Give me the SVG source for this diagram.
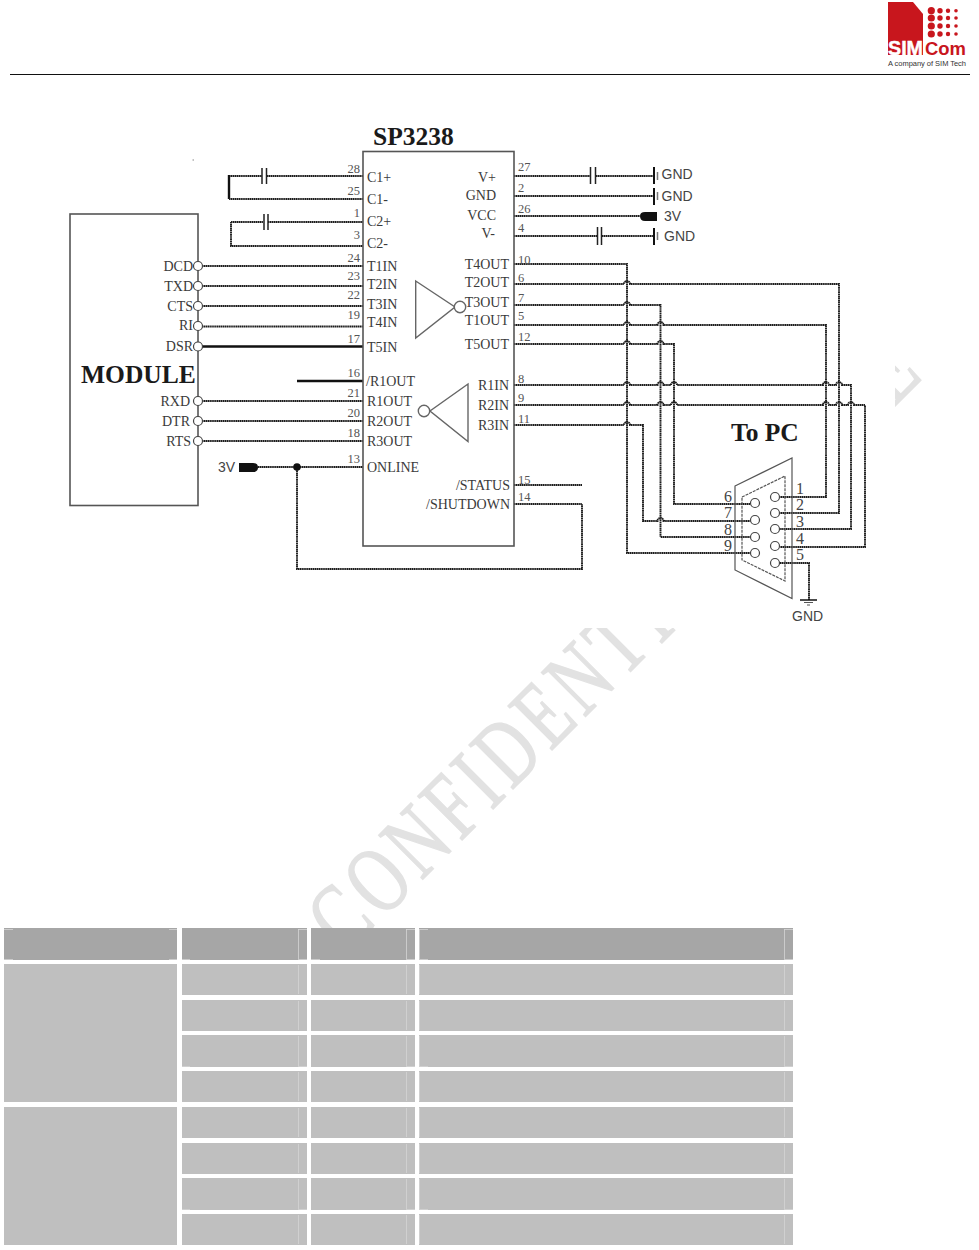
<svg xmlns="http://www.w3.org/2000/svg" width="979" height="1250" viewBox="0 0 979 1250">
<style>
text{font-family:"Liberation Serif","Times New Roman",serif;fill:#3a3a3a}
.l{font-size:14px}
.n{font-size:12.5px;fill:#555}
.e{text-anchor:end}
.b{font-weight:bold;font-size:25.500px;fill:#1a1a1a}
.s{font-family:"Liberation Sans",Arial,sans-serif;font-size:14px;fill:#444}
.d{font-size:16px;fill:#444}
.w{fill:none;stroke:#1c1c1c;stroke-width:1.900;stroke-dasharray:1.500 .4}
.t{fill:none;stroke:#111;stroke-width:2.400}
.box{fill:#fff;stroke:#555;stroke-width:1.600}
.gate{fill:#fff;stroke:#666;stroke-width:1.400}
.pin{fill:#fff;stroke:#444;stroke-width:1.200}
.wm{font-size:95px;fill:#e2e2e2;stroke:#e2e2e2;stroke-width:1.500}
.hd{fill:#a6a6a6}
.bd{fill:#bfbfbf}
.tk{fill:none;stroke:#d4d4d4;stroke-width:.8}
</style>
<defs>
<clipPath id="wmclip"><rect x="0" y="628" width="979" height="300"/><rect x="895" y="120" width="84" height="510"/></clipPath>
</defs>
<rect width="979" height="1250" fill="#fff"/>
<g id="watermark" clip-path="url(#wmclip)">
<text class="wm" transform="translate(346 956) rotate(-45) scale(.72 1)" letter-spacing="8">CONFIDENT</text>
<text class="wm" transform="translate(660 645) rotate(-45) scale(.74 1)" letter-spacing="9">IAL</text>
<text class="wm" transform="translate(800 501) rotate(-45) scale(.74 1)" letter-spacing="12">FILE</text>
</g>
<g id="header">
<line x1="10" y1="74.500" x2="970" y2="74.500" stroke="#111" stroke-width="1"/>
<g id="logo">
<path d="M888 2H913L923 14V55H888Z" fill="#c8161d"/>
<text x="888" y="55" style="font-family:'Liberation Sans',Arial,sans-serif;font-weight:bold;font-size:21px;fill:#fff;stroke:#fff;stroke-width:.5" textLength="35" lengthAdjust="spacingAndGlyphs">SIM</text>
<text x="925" y="55" style="font-family:'Liberation Sans',Arial,sans-serif;font-weight:bold;font-size:18px;fill:#c8161d" textLength="41" lengthAdjust="spacingAndGlyphs">Com</text>
<text x="888" y="66" style="font-family:'Liberation Sans',Arial,sans-serif;font-size:7.500px;fill:#333" textLength="78">A company of SIM Tech</text>
<g fill="#c8161d">
<circle cx="931.300" cy="10.700" r="3.600"/><circle cx="940" cy="10.700" r="2.700"/><circle cx="948" cy="10.700" r="2.200"/><circle cx="956" cy="10.700" r="1.800"/>
<circle cx="931.300" cy="18" r="3.600"/><circle cx="940" cy="18" r="2.700"/><circle cx="948" cy="18" r="2.200"/><circle cx="956" cy="18" r="1.800"/>
<circle cx="931.300" cy="26" r="3.600"/><circle cx="940" cy="26" r="2.700"/><circle cx="948" cy="26" r="2.200"/><circle cx="956" cy="26" r="1.800"/>
<circle cx="931.300" cy="34" r="3.600"/><circle cx="940" cy="34" r="2.700"/><circle cx="948" cy="34" r="2.200"/><circle cx="956" cy="34" r="1.800"/>
</g>
</g>
</g>
<g id="connectors">
<path class="w" d="M229 176H262M267 176H363"/>
<path class="t" d="M229 175V199"/>
<path class="w" d="M229 199H363"/>
<path class="w" d="M231 222H263M268 222H363M231 222V246H363"/>
<path class="w" d="M198 266H363M198 286H363M198 306H363M198 326.500H363"/>
<path class="t" d="M198 346.500H363M297 381H363"/>
<path class="w" d="M198 401H363M198 421H363M198 441H363"/>
<path class="w" d="M258 467H363M297 467V569H582V504H514M514 485H582"/>
<path class="w" d="M514 176H590M596 176H654M514 196H654M514 216H640M514 236H597M602 236H654"/>
<path class="w" d="M514 264H627V553H751"/>
<path class="w" d="M514 284H624a3 3 0 0 1 6 0H839V513H780"/>
<path class="w" d="M514 305H624a3 3 0 0 1 6 0H660.500V537H750.500"/>
<path class="w" d="M514 325H624a3 3 0 0 1 6 0H657.500a3 3 0 0 1 6 0H826V497H780"/>
<path class="w" d="M514 344H624a3 3 0 0 1 6 0H657.500a3 3 0 0 1 6 0H674V504H750.500"/>
<path class="w" d="M514 385H624a3 3 0 0 1 6 0H657.500a3 3 0 0 1 6 0H671a3 3 0 0 1 6 0H823a3 3 0 0 1 6 0H836a3 3 0 0 1 6 0H851V529H780"/>
<path class="w" d="M514 405H624a3 3 0 0 1 6 0H657.500a3 3 0 0 1 6 0H671a3 3 0 0 1 6 0H823a3 3 0 0 1 6 0H836a3 3 0 0 1 6 0H848a3 3 0 0 1 6 0H865V547H780"/>
<path class="w" d="M514 425H624a3 3 0 0 1 6 0H643V521H657.500a3 3 0 0 1 6 0H750.500"/>
<path class="w" d="M780 563H809V600"/>
<circle cx="297" cy="467" r="3.800" fill="#111"/>
</g>
<g id="caps" stroke="#222" stroke-width="1.500" fill="none">
<path d="M262 168V184M266.500 168V184M264 214V230M268 214V230M590.500 167V184M595.500 167V184M597.500 227V245M601.500 227V245"/>
</g>
<g id="module">
<rect class="box" x="70" y="214" width="128" height="291.500"/>
<text class="b" x="81" y="383">MODULE</text>
<g class="pin">
<circle cx="198" cy="266" r="4.500"/><circle cx="198" cy="286" r="4.500"/><circle cx="198" cy="306" r="4.500"/><circle cx="198" cy="326" r="4.500"/><circle cx="198" cy="346.500" r="4.500"/><circle cx="198" cy="401" r="4.500"/><circle cx="198" cy="421" r="4.500"/><circle cx="198" cy="441" r="4.500"/>
</g>
<text class="l e" x="193" y="271">DCD</text><text class="l e" x="193" y="291">TXD</text><text class="l e" x="193" y="311">CTS</text><text class="l e" x="193" y="330">RI</text><text class="l e" x="193" y="351">DSR</text>
<text class="l e" x="190" y="406">RXD</text><text class="l e" x="190" y="426">DTR</text><text class="l e" x="191" y="446">RTS</text>
</g>
<g id="sp3238">
<rect class="box" x="363" y="151.500" width="151" height="394.500"/>
<text class="b" x="373" y="145">SP3238</text>
<text class="l" x="367" y="181.500">C1+</text><text class="l" x="367" y="203.500">C1-</text><text class="l" x="367" y="225.500">C2+</text><text class="l" x="367" y="248">C2-</text>
<text class="l" x="367" y="270.500">T1IN</text><text class="l" x="367" y="288.500">T2IN</text><text class="l" x="367" y="308.500">T3IN</text><text class="l" x="367" y="326.500">T4IN</text><text class="l" x="367" y="351.500">T5IN</text>
<text class="l" x="366" y="385.500">/R1OUT</text><text class="l" x="367" y="405.500">R1OUT</text><text class="l" x="367" y="425.500">R2OUT</text><text class="l" x="367" y="445.500">R3OUT</text><text class="l" x="367" y="471.500">ONLINE</text>
<text class="l e" x="496" y="181.500">V+</text><text class="l e" x="496" y="199.500">GND</text><text class="l e" x="496" y="219.500">VCC</text><text class="l e" x="495" y="237.500">V-</text>
<text class="l e" x="509" y="268.500">T4OUT</text><text class="l e" x="509" y="286.500">T2OUT</text><text class="l e" x="509" y="306.500">T3OUT</text><text class="l e" x="509" y="324.500">T1OUT</text><text class="l e" x="509" y="348.500">T5OUT</text>
<text class="l e" x="509" y="389.500">R1IN</text><text class="l e" x="509" y="409.500">R2IN</text><text class="l e" x="509" y="429.500">R3IN</text>
<text class="l e" x="510" y="489.500">/STATUS</text><text class="l e" x="510" y="508.500">/SHUTDOWN</text>
<g>
<text class="n e" x="360" y="173">28</text><text class="n e" x="360" y="195">25</text><text class="n e" x="360" y="217">1</text><text class="n e" x="360" y="239">3</text><text class="n e" x="360" y="262">24</text><text class="n e" x="360" y="280">23</text><text class="n e" x="360" y="299">22</text><text class="n e" x="360" y="319">19</text><text class="n e" x="360" y="343">17</text><text class="n e" x="360" y="377">16</text><text class="n e" x="360" y="397">21</text><text class="n e" x="360" y="417">20</text><text class="n e" x="360" y="437">18</text><text class="n e" x="360" y="463">13</text>
<text class="n" x="518" y="171">27</text><text class="n" x="518" y="192">2</text><text class="n" x="518" y="213">26</text><text class="n" x="518" y="232">4</text><text class="n" x="518" y="264">10</text><text class="n" x="518" y="282">6</text><text class="n" x="518" y="302">7</text><text class="n" x="518" y="320">5</text><text class="n" x="518" y="341">12</text><text class="n" x="518" y="383">8</text><text class="n" x="518" y="402">9</text><text class="n" x="518" y="423">11</text><text class="n" x="518" y="484">15</text><text class="n" x="518" y="501">14</text>
</g>
<path class="gate" d="M415.700 281L455 307L415.700 338Z"/>
<circle class="gate" cx="460" cy="307" r="5.700"/>
<path class="gate" d="M468 384L430 411L468 441.500Z"/>
<circle class="gate" cx="424" cy="411" r="5.700"/>
</g>
<g id="gnd-symbols">
<path d="M654 167V184M654 188V205M654 228V245" stroke="#111" stroke-width="2" fill="none"/>
<path d="M657.500 172V180M657.500 192V200M657.500 232V240" stroke="#777" stroke-width="1.500" fill="none"/>
<text class="s" x="661.500" y="179">GND</text><text class="s" x="661.500" y="201">GND</text><text class="s" x="664" y="241">GND</text>
</g>
<g id="supply-3v">
<path d="M640 216Q640 212 645 212H657V221H645Q640 221 640 216Z" fill="#111"/>
<text class="s" x="664" y="221">3V</text>
<path d="M258 467.500Q258 463 253 463H239V472H253Q258 472 258 467.500Z" fill="#111"/>
<text class="s" x="218" y="472">3V</text>
</g>
<g id="db9">
<path d="M735 486L792 458V598.500L735 570Z" fill="none" stroke="#555" stroke-width="1.200"/>
<path d="M742 497L785 476V581L742 560Z" fill="none" stroke="#555" stroke-width="1.200" stroke-dasharray="3 1"/>
<g class="pin">
<circle cx="755" cy="503" r="4.500"/><circle cx="755" cy="520" r="4.500"/><circle cx="755" cy="537" r="4.500"/><circle cx="755" cy="553" r="4.500"/>
<circle cx="775" cy="497" r="4.500"/><circle cx="775" cy="513" r="4.500"/><circle cx="775" cy="529" r="4.500"/><circle cx="775" cy="546" r="4.500"/><circle cx="775" cy="563" r="4.500"/>
</g>
<text class="b" x="731" y="441">To PC</text>
<text class="d" x="724" y="502">6</text><text class="d" x="724" y="518">7</text><text class="d" x="724" y="535">8</text><text class="d" x="724" y="551">9</text>
<text class="d" x="796" y="494">1</text><text class="d" x="796" y="510">2</text><text class="d" x="796" y="527">3</text><text class="d" x="796" y="544">4</text><text class="d" x="796" y="560">5</text>
<path d="M800 600H817" stroke="#111" stroke-width="1.500"/>
<path d="M804 602.500H813M807 605H810" stroke="#555" stroke-width="1"/>
<text class="s" x="792" y="621">GND</text>
</g>
<rect id="speck" x="192.500" y="159.500" width="1.500" height="1" fill="#888"/>
<g id="table">
<g class="hd">
<rect x="4" y="928" width="173" height="32"/><rect x="182" y="928" width="125" height="32"/><rect x="311" y="928" width="104" height="32"/><rect x="419" y="928" width="374" height="32"/>
</g>
<g class="bd">
<rect x="4" y="964" width="173" height="138"/><rect x="4" y="1107" width="173" height="138"/>
<rect x="182" y="964" width="125" height="31"/><rect x="311" y="964" width="104" height="31"/><rect x="419" y="964" width="374" height="31"/>
<rect x="182" y="1000" width="125" height="31"/><rect x="311" y="1000" width="104" height="31"/><rect x="419" y="1000" width="374" height="31"/>
<rect x="182" y="1035" width="125" height="32"/><rect x="311" y="1035" width="104" height="32"/><rect x="419" y="1035" width="374" height="32"/>
<rect x="182" y="1071" width="125" height="31"/><rect x="311" y="1071" width="104" height="31"/><rect x="419" y="1071" width="374" height="31"/>
<rect x="182" y="1107" width="125" height="31"/><rect x="311" y="1107" width="104" height="31"/><rect x="419" y="1107" width="374" height="31"/>
<rect x="182" y="1143" width="125" height="31"/><rect x="311" y="1143" width="104" height="31"/><rect x="419" y="1143" width="374" height="31"/>
<rect x="182" y="1178" width="125" height="32"/><rect x="311" y="1178" width="104" height="32"/><rect x="419" y="1178" width="374" height="32"/>
<rect x="182" y="1214" width="125" height="31"/><rect x="311" y="1214" width="104" height="31"/><rect x="419" y="1214" width="374" height="31"/>
</g>
<path class="tk" d="M298.500 929V959M406.500 929V959M419.500 929V959M784.500 929V959M298.500 965V994M406.500 965V994M419.500 965V994M784.500 965V994M298.500 1001V1030M406.500 1001V1030M419.500 1001V1030M784.500 1001V1030M298.500 1036V1066M406.500 1036V1066M419.500 1036V1066M784.500 1036V1066M298.500 1072V1101M406.500 1072V1101M419.500 1072V1101M784.500 1072V1101M298.500 1108V1137M406.500 1108V1137M419.500 1108V1137M784.500 1108V1137M298.500 1144V1173M406.500 1144V1173M419.500 1144V1173M784.500 1144V1173M298.500 1179V1209M406.500 1179V1209M419.500 1179V1209M784.500 1179V1209M298.500 1215V1244M406.500 1215V1244M419.500 1215V1244M784.500 1215V1244"/>
<path class="tk" d="M4 959.500H13M169 959.500H177M182 959.500H190M298 959.500H307M311 959.500H320M406 959.500H415M419 959.500H428M784 959.500H793M4 929.500H13M169 929.500H177M298 929.500H307M406 929.500H415M419 929.500H428M784 929.500H793M182 1066.500H190M298 1066.500H307M406 1066.500H415M419 1066.500H428M784 1066.500H793M182 1209.500H190M298 1209.500H307M406 1209.500H415M419 1209.500H428M784 1209.500H793"/>
</g>
</svg>
